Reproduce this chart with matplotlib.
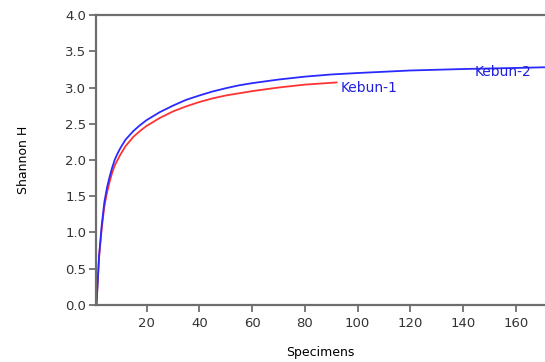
import matplotlib.pyplot as plt

# rarefaction curves
kebun1_x = [1, 2, 3, 4, 5, 6, 7, 8, 9, 10, 12, 15, 17.5, 20, 25, 30, 35, 40, 45,
            50, 55, 60, 70, 80, 92]
kebun1_y = [0.0, 0.66, 1.06, 1.36, 1.55, 1.70, 1.83, 1.93, 2.00, 2.07, 2.19, 2.32,
            2.40, 2.47, 2.58, 2.67, 2.74, 2.80, 2.85, 2.89, 2.92, 2.95, 3.00, 3.04,
            3.07]
kebun2_x = [1, 2, 3, 4, 5, 6, 7, 8, 9, 10, 12, 15, 17.5, 20, 25, 30, 35, 40, 45,
            50, 55, 60, 70, 80, 90, 100, 120, 140, 160, 172]
kebun2_y = [0.0, 0.68, 1.10, 1.42, 1.62, 1.77, 1.90, 2.01, 2.09, 2.16, 2.28, 2.40,
            2.48, 2.55, 2.66, 2.75, 2.83, 2.89, 2.945, 2.99, 3.03, 3.06, 3.11, 3.15,
            3.18, 3.20, 3.235, 3.255, 3.27, 3.28]
x_ticks = [20, 40, 60, 80, 100, 120, 140, 160]
y_ticks = [0.0, 0.5, 1.0, 1.5, 2.0, 2.5, 3.0, 3.5, 4.0]

fig = plt.figure(figsize=(5.45, 3.62), dpi=100)
ax = fig.add_axes([0.176, 0.1575, 0.824, 0.801])

ax.plot(kebun1_x, kebun1_y, color='#ff3333', linewidth=1.3)
ax.plot(kebun2_x, kebun2_y, color='#2a2aff', linewidth=1.3)

ax.text(93.5, 2.99, 'Kebun-1', color='#2020e0', fontsize=10, va='center', ha='left')
ax.text(144.5, 3.21, 'Kebun-2', color='#2020e0', fontsize=10, va='center', ha='left')

ax.set_xlim(0.8, 171)
ax.set_ylim(0, 4.0)
ax.set_xticks(x_ticks)
ax.set_yticks(y_ticks)
ax.set_yticklabels([f'{v:.1f}' for v in y_ticks])

spine_col = '#6e6e6e'
for side in ['left', 'top', 'bottom']:
    ax.spines[side].set_color(spine_col)
    ax.spines[side].set_linewidth(1.6)
ax.spines['right'].set_visible(False)
ax.tick_params(axis='both', direction='out', colors='#333333', labelsize=9.5,
               color=spine_col, width=1.3)
ax.tick_params(axis='y', length=5, pad=2)
ax.tick_params(axis='x', length=5, pad=4)

ax.set_xlabel('Specimens', fontsize=9, labelpad=11)
ax.set_ylabel('Shannon H', fontsize=9, labelpad=25)

plt.savefig('out.png', dpi=100)
